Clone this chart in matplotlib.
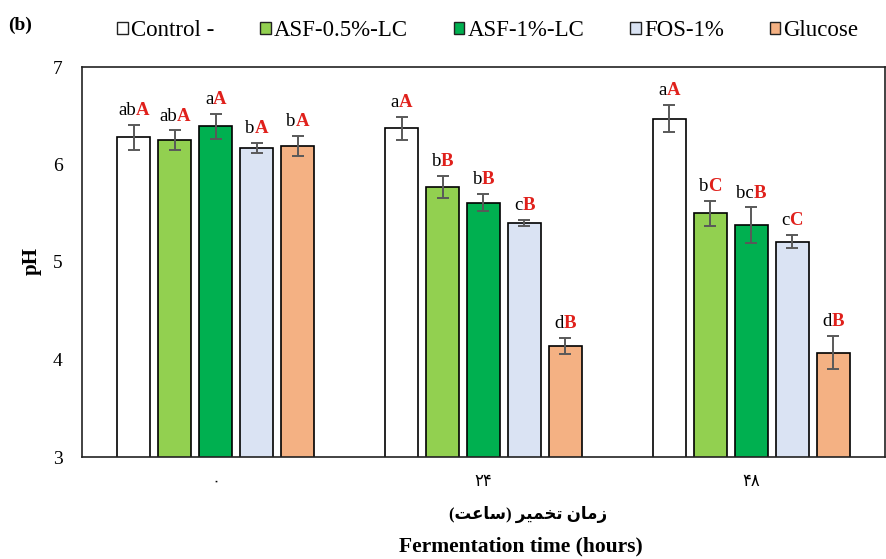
import matplotlib.pyplot as plt
import matplotlib.transforms as mtransforms
from matplotlib.patches import Patch
import numpy as np

## данные
times = ['\u06f0', '\u06f2\u06f4', '\u06f4\u06f8']   # ۰ ۲۴ ۴۸
groups = ['Control -', 'ASF-0.5%-LC', 'ASF-1%-LC', 'FOS-1%', 'Glucose']
colors = ['#FFFFFF', '#92D050', '#00B050', '#DAE3F3', '#F4B183']

ph_control = [6.28, 6.37, 6.47]
ph_asf05   = [6.25, 5.77, 5.50]
ph_asf1    = [6.39, 5.61, 5.38]
ph_fos     = [6.17, 5.40, 5.21]
ph_glucose = [6.19, 4.14, 4.07]

err_control = [0.13, 0.12, 0.14]
err_asf05   = [0.10, 0.11, 0.13]
err_asf1    = [0.13, 0.09, 0.18]
err_fos     = [0.05, 0.035, 0.07]
err_glucose = [0.10, 0.08, 0.17]

low_control = ['ab', 'a', 'a'];  up_control = ['A', 'A', 'A']
low_asf05   = ['ab', 'b', 'b'];  up_asf05   = ['A', 'B', 'C']
low_asf1    = ['a', 'b', 'bc'];  up_asf1    = ['A', 'B', 'B']
low_fos     = ['b', 'c', 'c'];   up_fos     = ['A', 'B', 'C']
low_glucose = ['b', 'd', 'd'];   up_glucose = ['A', 'B', 'B']

values = [ph_control, ph_asf05, ph_asf1, ph_fos, ph_glucose]
errors = [err_control, err_asf05, err_asf1, err_fos, err_glucose]
lows = [low_control, low_asf05, low_asf1, low_fos, low_glucose]
ups = [up_control, up_asf05, up_asf1, up_fos, up_glucose]

serif = 'Liberation Serif'
mixed = ['Liberation Serif', 'DejaVu Sans']

fig = plt.figure(figsize=(8.86, 5.59), dpi=100)
ax = fig.add_axes([82/886, 1 - 457/559, 803/886, 390/559])

x = np.arange(len(times))
step = 0.153
width = 0.123

pairs = []
for i in range(len(groups)):
    xs = x + (i - 2) * step
    ax.bar(xs, values[i], width, bottom=0, color=colors[i], edgecolor='black',
           linewidth=1.2, zorder=2)
    ax.errorbar(xs, values[i], yerr=errors[i], fmt='none', ecolor='#595959',
                elinewidth=1.4, capsize=4, capthick=1.4, zorder=3)
    for j in range(len(times)):
        ytxt = values[i][j] + errors[i][j] + 0.06
        lo = ax.text(xs[j], ytxt, lows[i][j], ha='left', va='bottom',
                     fontsize=13.5, family=serif, color='black')
        up = ax.annotate(ups[i][j], xy=(1, 0), xycoords=lo, ha='left', va='bottom',
                         fontsize=13.5, family=serif, fontweight='bold', color='#E0201B')
        pairs.append((lo, up))

ax.set_xlim(-0.5, 2.5)
ax.set_ylim(3, 7)
ax.set_yticks([3, 4, 5, 6, 7])
ax.set_yticklabels(['3', '4', '5', '6', '7'], family=serif, fontsize=14)
ax.set_xticks(x)
ax.set_xticklabels(times, family=mixed, fontsize=12)
ax.tick_params(axis='both', length=0)
ax.tick_params(axis='y', pad=14)
ax.tick_params(axis='x', pad=12)
for s in ax.spines.values():
    s.set_linewidth(1.2)
    s.set_color('#222222')

fig.text(32/886, 1 - 261/559, 'pH', rotation=90, ha='center', va='center',
         family=serif, fontweight='bold', fontsize=15)

# زمان تخمیر (ساعت)
fa_label = '(\ufe96\ufecb\ufe8e\ufeb3) \ufeae\ufef4\ufee4\ufea8\ufe97 \ufee5\ufe8e\ufee3\ufeaf'
fig.text(528/886, 1 - 514/559, fa_label, ha='center', va='center',
         family=mixed, fontweight='bold', fontsize=12)
fig.text(521/886, 1 - 546/559, 'Fermentation time (hours)', ha='center', va='center',
         family=serif, fontweight='bold', fontsize=15.5)

fig.text(8/886, 1 - 25/559, '(b)', ha='left', va='center',
         family=serif, fontweight='bold', fontsize=14)

handles = [Patch(facecolor=c, edgecolor='#222222', linewidth=1.0) for c in colors]
leg = fig.legend(handles, groups, loc='center', bbox_to_anchor=(488/886, 1 - 31/559),
                 ncol=5, frameon=False, handlelength=0.45, handleheight=0.45,
                 handletextpad=0.15, columnspacing=2.0,
                 prop={'family': serif, 'size': 16.5})

## центрирование подписей над столбиками
fig.canvas.draw()
r = fig.canvas.get_renderer()
for lo, up in pairs:
    w = lo.get_window_extent(r).width + up.get_window_extent(r).width
    lo.set_transform(mtransforms.offset_copy(ax.transData, fig=fig, x=-w/2, y=0, units='dots'))

fig.savefig('out.png', dpi=100)
